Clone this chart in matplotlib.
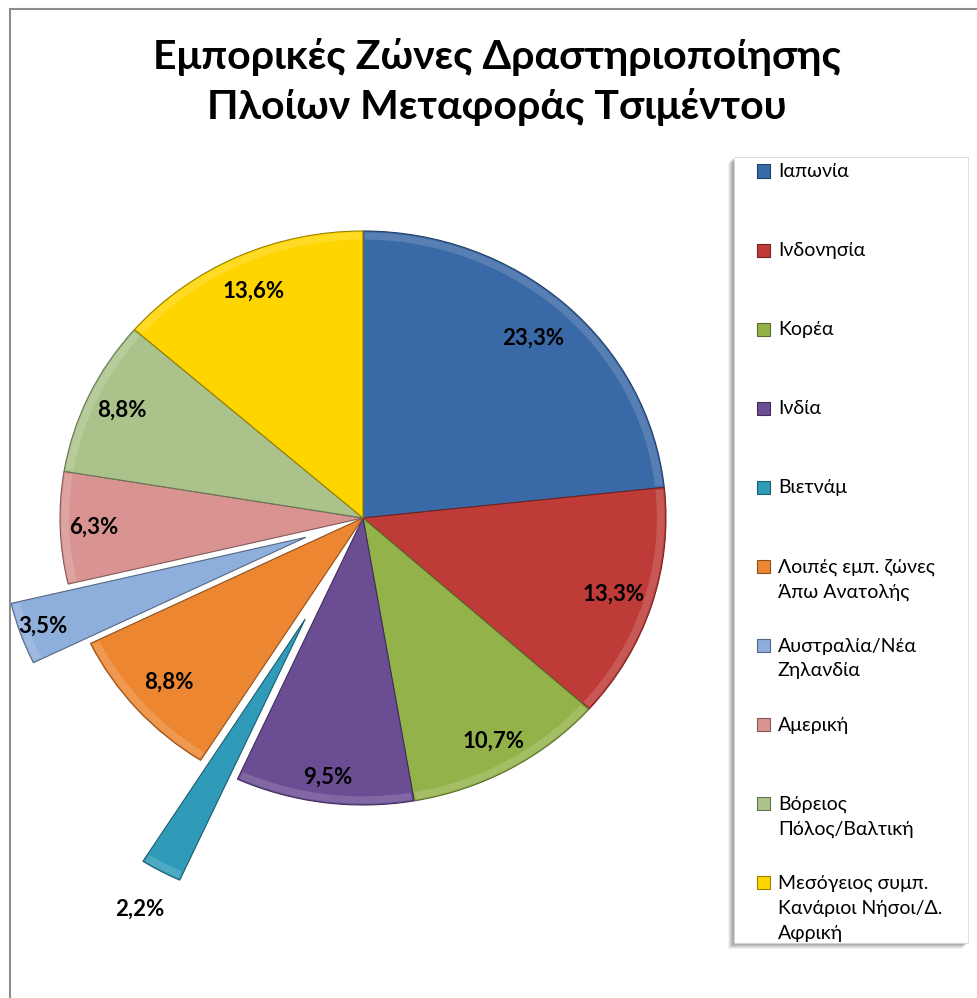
import matplotlib.pyplot as plt
from matplotlib.patches import Rectangle, Wedge
import matplotlib.colors as mcolors
import numpy as np

# μερίδια ανά εμπορική ζώνη (%)
zones = ['Ιαπωνία', 'Ινδονησία', 'Κορέα', 'Ινδία', 'Βιετνάμ',
         'Λοιπές εμπ. ζώνες\nΆπω Ανατολής', 'Αυστραλία/Νέα\nΖηλανδία',
         'Αμερική', 'Βόρειος\nΠόλος/Βαλτική',
         'Μεσόγειος συμπ.\nΚανάριοι Νήσοι/Δ.\nΑφρική']
shares = [23.3, 13.3, 10.7, 9.5, 2.2, 8.8, 3.5, 6.3, 8.8, 13.6]
colors = ['#3a69a8', '#bf3b37', '#93b34a', '#6b4d94', '#2f9bb8',
          '#ec8630', '#8eaedb', '#d99492', '#abc28a', '#ffd500']
explode = [0, 0, 0, 0, 0.40, 0, 0.20, 0, 0, 0]
lab_dist = [0.84, 0.87, 0.89, 0.91, 1.15, 0.86, 0.92, 0.89, 0.88, 0.87]

FONT = ['Lato', 'DejaVu Sans']
W, H = 977, 998
cx, cy, rx, ry = 363, 518, 303, 287

fig = plt.figure(figsize=(W / 100, H / 100), dpi=100)

def fx(x):
    return x / W

def fy(y):
    return 1 - y / H

# περίγραμμα γραφήματος
fig.add_artist(Rectangle((fx(10), fy(H + 5)), fx(W), fy(9) - fy(H + 5),
                         transform=fig.transFigure, fill=False,
                         edgecolor='#8c8c8c', lw=1.5))

ax = fig.add_axes([0, 0, 1, 1])
edges = [tuple(v * 0.6 for v in mcolors.to_rgb(c)) for c in colors]
wedges, _ = ax.pie(shares, colors=colors, explode=explode, startangle=90,
                   counterclock=False, radius=1,
                   wedgeprops=dict(linewidth=0.8))
for w, e in zip(wedges, edges):
    w.set_edgecolor(e)

# ελαφρύ ανάγλυφο στο εξωτερικό τόξο
for w, c in zip(wedges, colors):
    light = tuple(min(1, v * 0.5 + 0.5) for v in mcolors.to_rgb(c))
    ax.add_patch(Wedge(w.center, 0.995, w.theta1 + 0.4, w.theta2 - 0.4,
                       width=0.025, facecolor=light, edgecolor='none',
                       alpha=0.3))

ax.set_xlim(-cx / rx, (W - cx) / rx)
ax.set_ylim(-(H - cy) / ry, cy / ry)
ax.set_aspect('auto')
ax.axis('off')

# ετικέτες ποσοστών
for w, v, d in zip(wedges, shares, lab_dist):
    ang = np.deg2rad((w.theta1 + w.theta2) / 2)
    x = w.center[0] + d * np.cos(ang)
    y = w.center[1] + d * np.sin(ang)
    ax.text(x, y, f'{v:.1f}%'.replace('.', ','), ha='center', va='center',
            fontsize=16, fontweight='bold', family=FONT)

fig.text(fx(497), fy(82), 'Εμπορικές Ζώνες Δραστηριοποίησης\nΠλοίων Μεταφοράς Τσιμέντου',
         ha='center', va='center', fontsize=29.5, fontweight='bold',
         family=FONT, linespacing=1.4)

# υπόμνημα
lx0, lx1, ly0, ly1 = 734, 968, 157, 943
for k, a in enumerate([0.10, 0.14, 0.18, 0.22, 0.26]):
    off = 6 - k
    fig.add_artist(Rectangle((fx(lx0 - off), fy(ly1 + off)), fx(lx1 - lx0),
                             fy(ly0 + off) - fy(ly1 + off),
                             transform=fig.transFigure, facecolor='#808080',
                             edgecolor='none', alpha=a))
fig.add_artist(Rectangle((fx(lx0), fy(ly1)), fx(lx1 - lx0), fy(ly0) - fy(ly1),
                         transform=fig.transFigure, facecolor='white',
                         edgecolor='#d0d0d0', lw=0.5))

for i, (name, c, e) in enumerate(zip(zones, colors, edges)):
    y = 171 + i * 79.1
    fig.add_artist(Rectangle((fx(757), fy(y + 6.5)), fx(13), fy(y - 6.5) - fy(y + 6.5),
                             transform=fig.transFigure, facecolor=c,
                             edgecolor=e, lw=0.8))
    fig.text(fx(778), fy(y - 8), name, ha='left', va='top', fontsize=14,
             family=FONT, linespacing=1.55)

fig.savefig('out.png', dpi=100)
